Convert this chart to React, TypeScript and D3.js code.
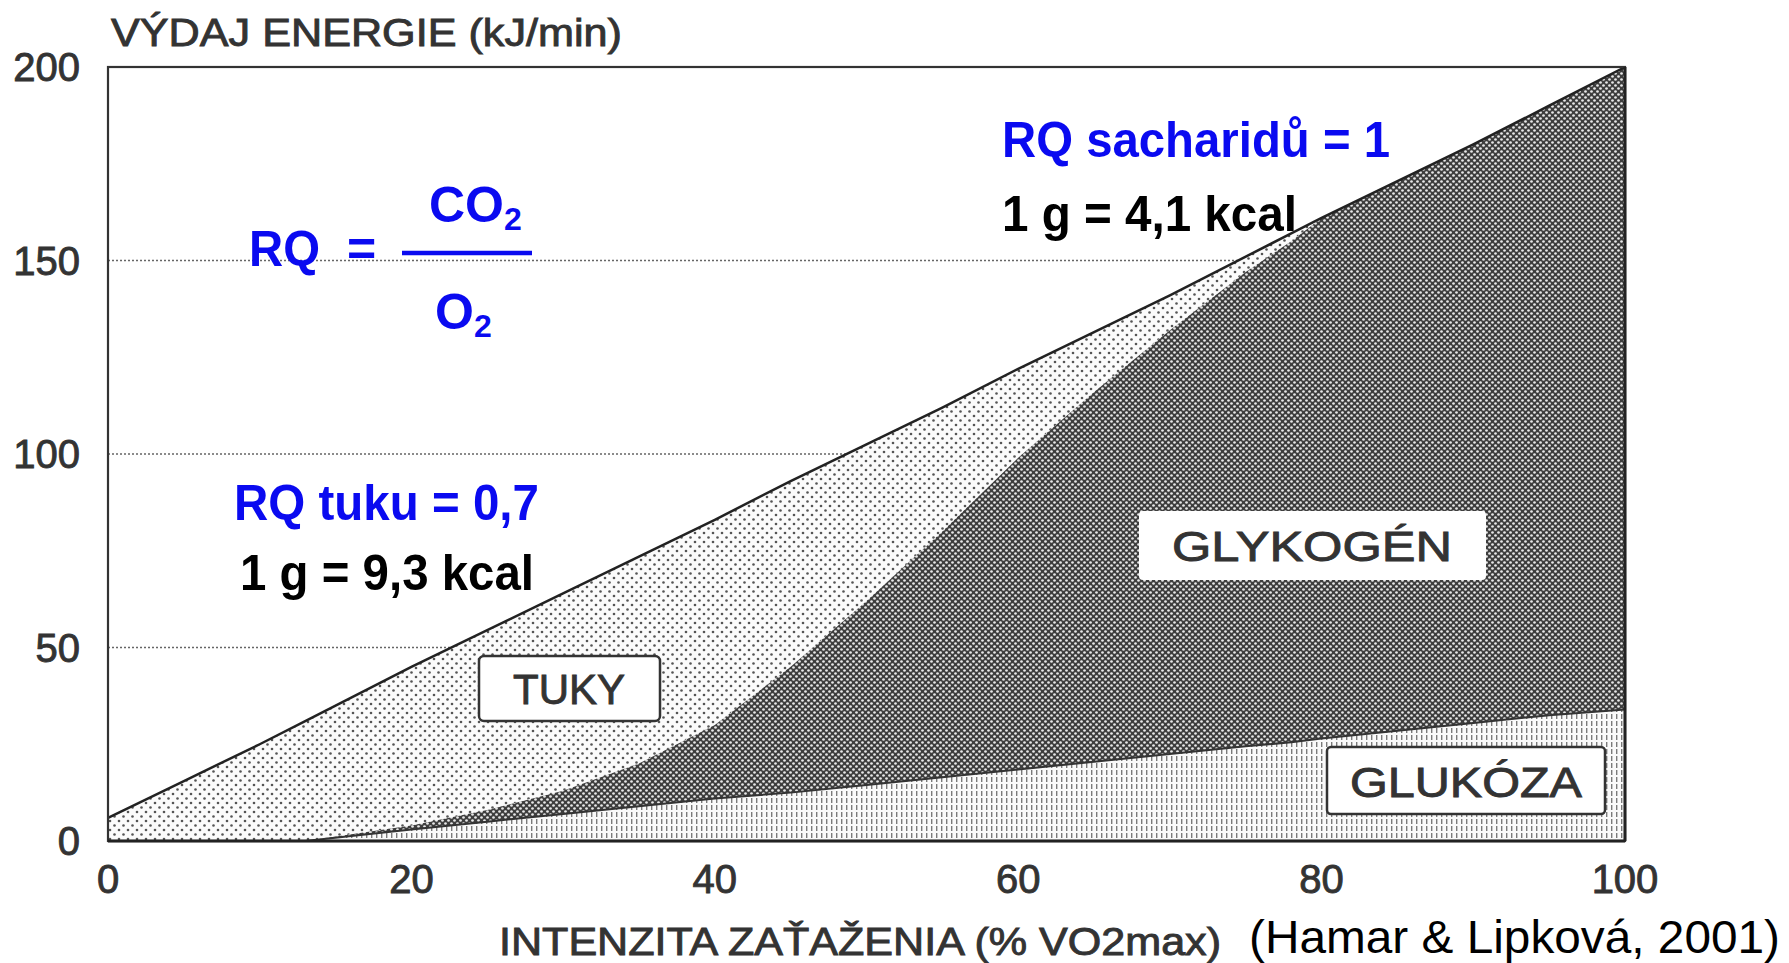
import React from "react";
import * as d3 from "d3";

// intensity (% VO2max) and energy expenditure (kJ/min)
const intensity = [0, 5, 10, 13, 20, 25, 30, 35, 40, 45, 50, 55, 60, 65, 70, 75, 78, 80, 85, 90, 95, 100];
const total = [6, 15.5, 25, 31, 45, 54.5, 64, 73.5, 83, 93, 102.5, 112, 122, 131.5, 141, 151, 157, 161, 170.5, 180, 190, 200];
const carbs = [0, 0, 0, 0, 4, 8, 13, 20, 30, 45, 62, 80, 99, 116, 132, 147, 155, 161, 170.5, 180, 190, 200];
const glucose = [0, 0, 0, 0, 3, 5, 7, 9, 11, 12.5, 14.5, 16.5, 18.5, 20.5, 22.5, 24.5, 25.5, 26.5, 28.5, 30.5, 32.5, 34];

const xTicks = [0, 20, 40, 60, 80, 100];
const yTicks = [0, 50, 100, 150, 200];
const gridTicks = [50, 100, 150];

const W = 1789;
const H = 963;
const FONT = "'Liberation Sans', Arial, sans-serif";
const BLUE = "#0a0af0";
const INK = "#333";

export default function App() {
  const x = d3.scaleLinear().domain([0, 100]).range([108, 1625]);
  const y = d3.scaleLinear().domain([0, 200]).range([841, 67]);

  const rows = intensity.map((v, i) => ({
    x: v,
    total: total[i],
    carbs: carbs[i],
    glucose: glucose[i],
  }));

  const fatArea = d3
    .area<any>()
    .x((d) => x(d.x))
    .y0((d) => y(d.carbs))
    .y1((d) => y(d.total));
  const glycogenArea = d3
    .area<any>()
    .x((d) => x(d.x))
    .y0((d) => y(d.glucose))
    .y1((d) => y(d.carbs));
  const glucoseArea = d3
    .area<any>()
    .x((d) => x(d.x))
    .y0(() => y(0))
    .y1((d) => y(d.glucose));
  const totalLine = d3
    .line<any>()
    .x((d) => x(d.x))
    .y((d) => y(d.total));
  const glucoseLine = d3
    .line<any>()
    .x((d) => x(d.x))
    .y((d) => y(d.glucose));

  // scanned gray labels look heavier than plain regular weight
  const scan = { fill: INK, stroke: INK, strokeWidth: 0.9 };

  return (
    <svg
      width={W}
      height={H}
      style={{ position: "absolute", left: 0, top: 0, background: "#fff" }}
      fontFamily={FONT}
    >
      <defs>
        <pattern id="fat" width="9" height="9" patternUnits="userSpaceOnUse">
          <rect width="9" height="9" fill="#fbfbfb" />
          <circle cx="2" cy="2" r="1.3" fill="#555" />
          <circle cx="6.5" cy="6.5" r="1.3" fill="#555" />
        </pattern>
        <pattern id="glyco" width="6" height="6" patternUnits="userSpaceOnUse">
          <rect width="6" height="6" fill="#3e3e3e" />
          <circle cx="1.5" cy="1.5" r="1.35" fill="#e8e8e8" />
          <circle cx="4.5" cy="4.5" r="1.35" fill="#e8e8e8" />
        </pattern>
        <pattern id="gluc" width="5" height="7" patternUnits="userSpaceOnUse">
          <rect width="5" height="7" fill="#fafafa" />
          <rect x="1" y="0" width="1.4" height="5" fill="#7a7a7a" />
        </pattern>
      </defs>

      {/* dotted gridlines */}
      {gridTicks.map((t) => (
        <line
          key={t}
          x1={x(0)}
          x2={x(100)}
          y1={y(t)}
          y2={y(t)}
          stroke="#666"
          strokeWidth={1.6}
          strokeDasharray="2 2"
        />
      ))}

      <path d={fatArea(rows) || ""} fill="url(#fat)" />
      <path d={glycogenArea(rows) || ""} fill="url(#glyco)" />
      <path d={glucoseArea(rows) || ""} fill="url(#gluc)" />
      <path d={glucoseLine(rows) || ""} fill="none" stroke="#333" strokeWidth={2} />
      <path d={totalLine(rows) || ""} fill="none" stroke="#222" strokeWidth={2.5} />

      {/* frame */}
      <rect
        x={x(0)}
        y={y(200)}
        width={x(100) - x(0)}
        height={y(0) - y(200)}
        fill="none"
        stroke={INK}
        strokeWidth={2.2}
      />
      <line x1={x(0)} x2={x(100)} y1={y(0)} y2={y(0)} stroke="#222" strokeWidth={3} />
      <line x1={x(100)} x2={x(100)} y1={y(200)} y2={y(0)} stroke="#222" strokeWidth={3} />

      {/* y ticks */}
      {yTicks.map((t) => (
        <text key={t} x={80} y={y(t)} dy="0.36em" textAnchor="end" fontSize={40} {...scan}>
          {t}
        </text>
      ))}
      {/* x ticks */}
      {xTicks.map((t) => (
        <text key={t} x={x(t)} y={893} textAnchor="middle" fontSize={40} {...scan}>
          {t}
        </text>
      ))}

      <text x={111} y={46} fontSize={38} {...scan} textLength={511} lengthAdjust="spacingAndGlyphs">
        VÝDAJ ENERGIE (kJ/min)
      </text>
      <text x={499} y={955} fontSize={38} {...scan} textLength={722} lengthAdjust="spacingAndGlyphs">
        INTENZITA ZAŤAŽENIA (% VO2max)
      </text>
      <text x={1249} y={953} fontSize={46} fill="#000" textLength={531} lengthAdjust="spacingAndGlyphs">
        (Hamar &amp; Lipková, 2001)
      </text>

      {/* label boxes */}
      <rect x={479} y={656} width={181} height={65} rx={5} fill="#fff" stroke={INK} strokeWidth={2.5} />
      <text x={569} y={704} textAnchor="middle" fontSize={42} {...scan}>
        TUKY
      </text>
      <rect x={1139} y={511} width={347} height={69} rx={4} fill="#fff" />
      <text x={1312} y={561} textAnchor="middle" fontSize={42} {...scan} textLength={280} lengthAdjust="spacingAndGlyphs">
        GLYKOGÉN
      </text>
      <rect x={1327} y={747} width={278} height={67} rx={4} fill="#fff" stroke={INK} strokeWidth={2.5} />
      <text x={1466} y={797} textAnchor="middle" fontSize={42} {...scan} textLength={232} lengthAdjust="spacingAndGlyphs">
        GLUKÓZA
      </text>

      {/* annotations */}
      <g fontWeight="bold" fontSize={50}>
        <text x={1002} y={157} fill={BLUE} textLength={388} lengthAdjust="spacingAndGlyphs">
          RQ sacharidů = 1
        </text>
        <text x={1002} y={231} fill="#000" textLength={295} lengthAdjust="spacingAndGlyphs">
          1 g = 4,1 kcal
        </text>
        <text x={234} y={520} fill={BLUE} textLength={305} lengthAdjust="spacingAndGlyphs">
          RQ tuku = 0,7
        </text>
        <text x={240} y={590} fill="#000" textLength={294} lengthAdjust="spacingAndGlyphs">
          1 g = 9,3 kcal
        </text>

        <text x={249} y={266} fill={BLUE} textLength={71} lengthAdjust="spacingAndGlyphs">
          RQ
        </text>
        <text x={347} y={266} fill={BLUE}>
          =
        </text>
        <line x1={402} x2={532} y1={253} y2={253} stroke={BLUE} strokeWidth={4.5} />
        <text x={429} y={222} fill={BLUE}>
          CO<tspan fontSize={32} dy={8}>2</tspan>
        </text>
        <text x={435} y={329} fill={BLUE}>
          O<tspan fontSize={32} dy={8}>2</tspan>
        </text>
      </g>
    </svg>
  );
}
